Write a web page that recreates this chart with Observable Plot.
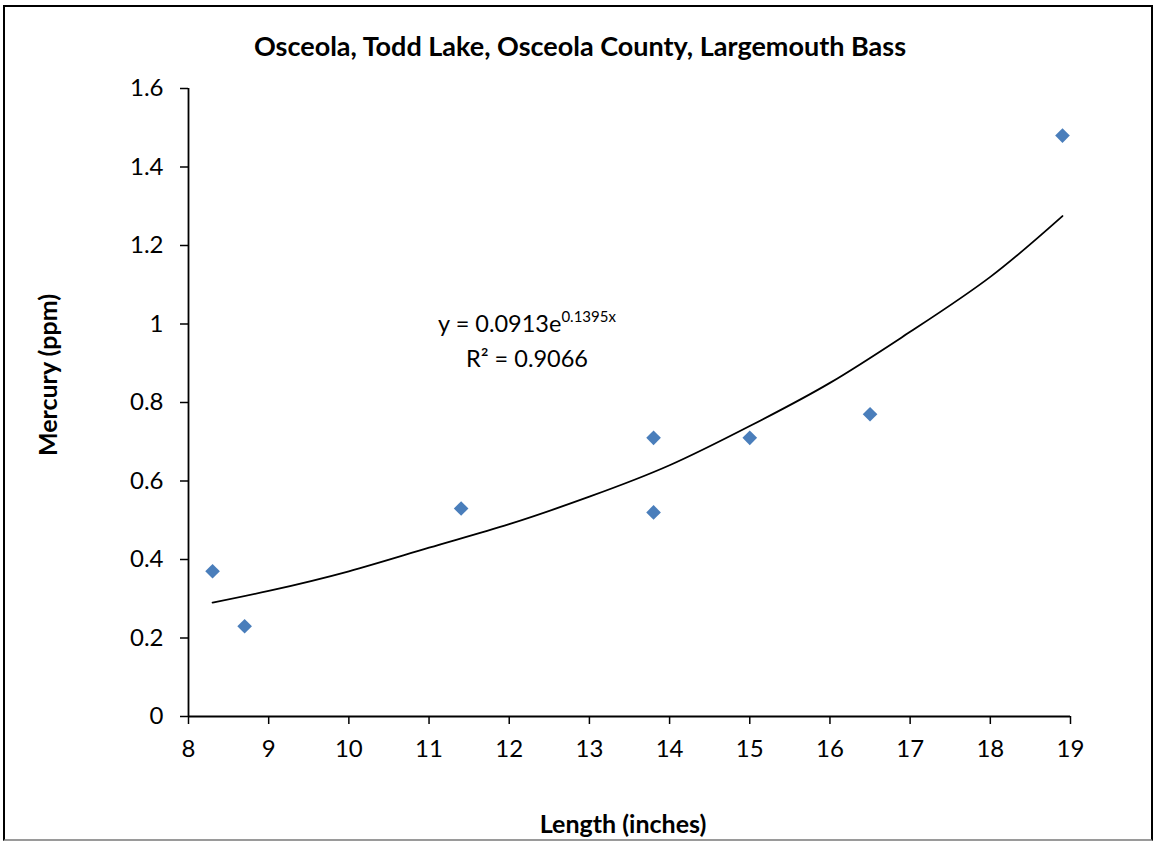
<!DOCTYPE html>
<html><head><meta charset="utf-8">
<script src="https://cdn.jsdelivr.net/npm/d3@7"></script>
<script src="https://cdn.jsdelivr.net/npm/@observablehq/plot@0.6"></script>
<style>
body{margin:0;background:#fff;}
#wrap{position:relative;width:1156px;height:842px;font-family:Lato,"Open Sans",sans-serif;color:#000;}
#frame{position:absolute;left:3px;top:5px;width:1150px;height:836px;border:2px solid #000;border-bottom-color:#9a9a9a;box-sizing:border-box;pointer-events:none;}
.lbl{position:absolute;font-weight:bold;white-space:nowrap;}
#title{left:0;width:1160px;top:29px;text-align:center;font-size:27px;}
#xlab{left:0;width:1246px;top:808px;text-align:center;font-size:25px;}
#ylab{left:47px;top:375px;transform:translate(-50%,-50%) rotate(-90deg);font-size:25px;}
#eq{position:absolute;left:407px;width:240px;top:307px;text-align:center;font-size:23.5px;line-height:32px;}
#eq sup{font-size:15px;vertical-align:0;position:relative;top:-10px;}
#chart svg{display:block;}
</style></head>
<body>
<div id="wrap">
  <div id="chart"></div>
  <div class="lbl" id="title">Osceola, Todd Lake, Osceola County, Largemouth Bass</div>
  <div class="lbl" id="xlab">Length (inches)</div>
  <div class="lbl" id="ylab">Mercury (ppm)</div>
  <div id="eq">y = 0.0913e<sup>0.1395x</sup><br>R² = 0.9066</div>
  <div id="frame"></div>
</div>
<script>
const lengths = [8.3, 8.7, 11.4, 13.8, 13.8, 15, 16.5, 18.9];
const mercury = [0.37, 0.23, 0.53, 0.71, 0.52, 0.71, 0.77, 1.48];
const trendX = [8.3, 9, 10, 11, 12, 13, 14, 15, 16, 17, 18, 18.9];
const trendY = [0.29, 0.32, 0.37, 0.43, 0.49, 0.56, 0.64, 0.74, 0.85, 0.98, 1.12, 1.275];
const xTicks = [8, 9, 10, 11, 12, 13, 14, 15, 16, 17, 18, 19];
const yTicks = [0, 0.2, 0.4, 0.6, 0.8, 1, 1.2, 1.4, 1.6];

const points = lengths.map((x, i) => ({x, y: mercury[i]}));
const trend = trendX.map((x, i) => ({x, y: trendY[i]}));

const chart = Plot.plot({
  width: 1156,
  height: 842,
  marginLeft: 188,
  marginRight: 86,
  marginTop: 88,
  marginBottom: 126,
  style: {fontFamily: "Lato, 'Open Sans', sans-serif", fontSize: "24px", color: "#000", background: "transparent"},
  x: {domain: [8, 19]},
  y: {domain: [0, 1.6]},
  marks: [
    Plot.axisX({ticks: xTicks, tickSize: 8, tickPadding: 15, label: null, tickFormat: d => String(d), stroke: "#000", strokeWidth: 1.5}),
    Plot.axisY({ticks: yTicks, tickSize: 8, tickPadding: 17, label: null, tickFormat: d => String(d), stroke: "#000", strokeWidth: 1.5}),
    Plot.ruleX([8], {stroke: "#000", strokeWidth: 1.8}),
    Plot.ruleY([0], {stroke: "#000", strokeWidth: 1.8}),
    Plot.line(trend, {x: "x", y: "y", curve: "natural", stroke: "#000", strokeWidth: 1.8}),
    Plot.dot(points, {x: "x", y: "y", symbol: "diamond2", r: 6.6, fill: "#4a7ebb", stroke: "none"})
  ]
});
document.getElementById("chart").appendChild(chart);
</script>
</body></html>
